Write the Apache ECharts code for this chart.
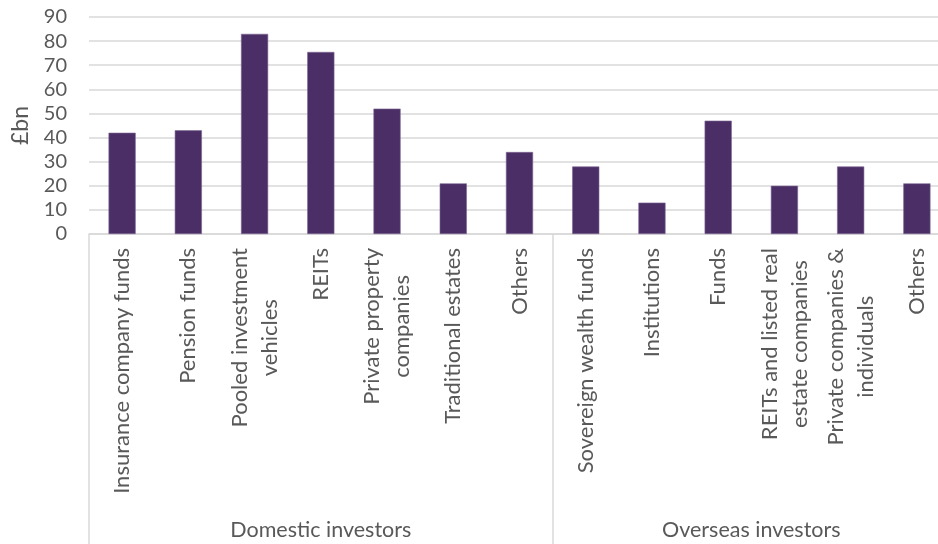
<!DOCTYPE html>
<html>
<head>
<meta charset="utf-8">
<script src="https://cdn.jsdelivr.net/npm/echarts@6/dist/echarts.min.js"></script>
<style>
  html, body { margin: 0; padding: 0; background: #fff; }
  #main { width: 938px; height: 544px; }
</style>
</head>
<body>
<div id="main"></div>
<script>
// 数据
var categories = [
  'Insurance company funds', 'Pension funds', 'Pooled investment\nvehicles', 'REITs',
  'Private property\ncompanies', 'Traditional estates', 'Others',
  'Sovereign wealth funds', 'Institutions', 'Funds', 'REITs and listed real\nestate companies',
  'Private companies &\nindividuals', 'Others'
];
var values = [42, 43, 83, 75.5, 52, 21, 34, 28, 13, 47, 20, 28, 21];
var groups = ['Domestic investors', 'Overseas investors'];
var groupSizes = [7, 6];
var yTicks = [0, 10, 20, 30, 40, 50, 60, 70, 80, 90];

// 分组的边界和中心
var bounds = [0];
var centers = [];
for (var i = 0; i < groupSizes.length; i++) {
  centers.push(bounds[i] + groupSizes[i] / 2);
  bounds.push(bounds[i] + groupSizes[i]);
}

var txt = '#595959';
var font = 'Lato';
var chart = echarts.init(document.getElementById('main'));
chart.setOption({
  animation: false,
  backgroundColor: '#fff',
  grid: { left: 89, top: 17, width: 861, height: 217, outerBoundsMode: 'none' },
  yAxis: {
    type: 'value', min: 0, max: 90, interval: 10,
    name: '£bn', nameLocation: 'middle', nameRotate: 90, nameGap: 57,
    nameTextStyle: { color: txt, fontSize: 23, fontFamily: font },
    axisLine: { show: false }, axisTick: { show: false },
    axisLabel: {
      color: txt, fontSize: 20, fontFamily: font, margin: 22,
      customValues: yTicks
    },
    splitLine: { lineStyle: { color: '#d9d9d9', width: 1.5 } }
  },
  xAxis: [{
    type: 'category', data: categories,
    axisLine: { lineStyle: { color: '#d9d9d9', width: 1.5 } },
    axisTick: { show: false },
    axisLabel: {
      interval: 0, rotate: 90, margin: 14,
      formatter: function (v) {
        return v.split('\n').map(function (l) { return '{c|' + l + '}'; }).join('\n');
      },
      rich: { c: { align: 'center', color: txt, fontSize: 22, fontFamily: font, lineHeight: 30 } }
    }
  }, {
    type: 'value', min: 0, max: 13, position: 'bottom', offset: 312,
    axisLine: { show: false },
    splitLine: { show: false },
    axisTick: { show: true, inside: true, length: 312, customValues: bounds,
      lineStyle: { color: '#d9d9d9', width: 1.5 } },
    axisLabel: {
      inside: true, margin: 5, color: txt, fontSize: 21.5, fontFamily: font,
      customValues: centers,
      formatter: function (v) { return groups[centers.indexOf(v)] || ''; }
    }
  }],
  series: [{
    type: 'bar', data: values, barWidth: '41%',
    itemStyle: { color: '#4b2e66', borderColor: '#7d6893', borderWidth: 0.6 }
  }]
});
</script>
</body>
</html>
